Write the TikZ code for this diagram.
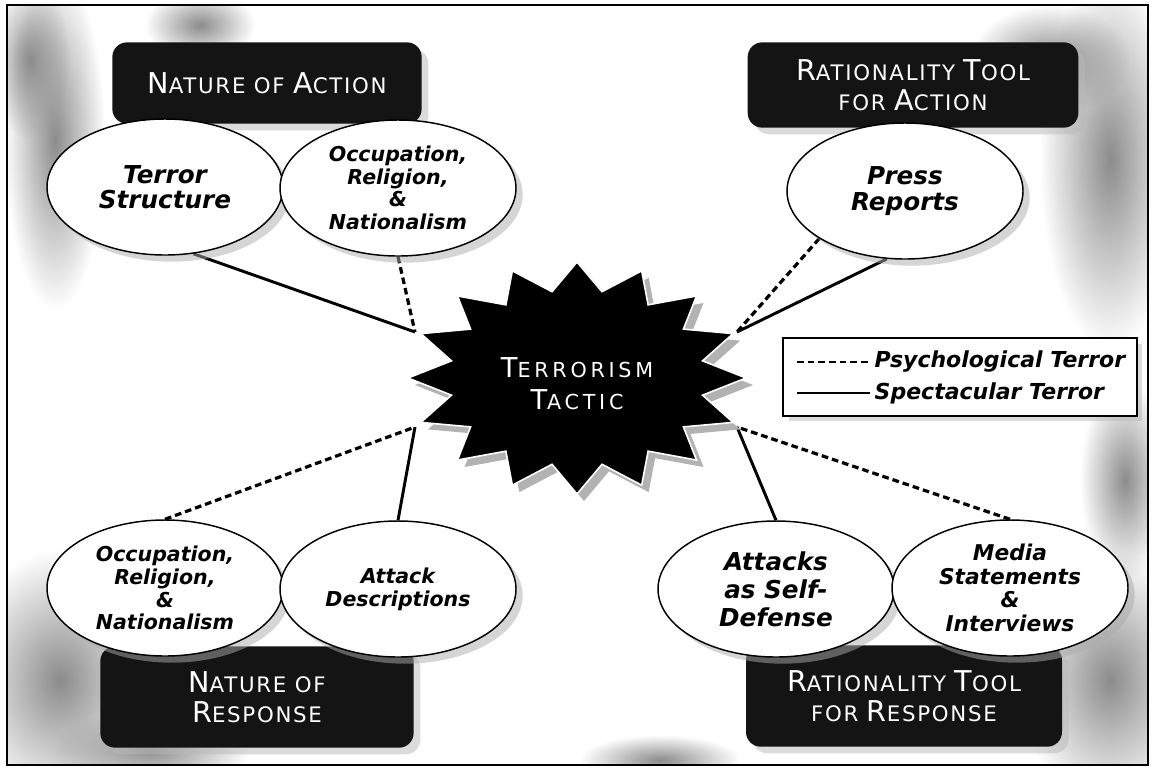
\documentclass[tikz,border=0pt]{standalone}
\usepackage{fontspec}
\setmainfont{DejaVu Sans}
\usetikzlibrary{shapes.geometric,shadows,fadings}
\pgfdeclarelayer{background}
\pgfsetlayers{background,main}

\def\capsize{20}
\newcommand\Cap[1]{{\fontsize{\capsize}{\capsize}\selectfont#1}}
\tikzfading[name=softspot, inner color=transparent!0, outer color=transparent!100]

\tikzset{
  topic/.style={ellipse, draw, line width=1.1pt, fill=white, inner sep=0pt,
    minimum width=177pt, minimum height=102pt, align=center,
    drop shadow={shadow xshift=5pt, shadow yshift=-5pt, fill=gray!65}},
  bigtxt/.style={font=\bfseries\itshape\fontsize{18.5}{19}\selectfont},
  midtxt/.style={font=\bfseries\itshape\fontsize{16.3}{17.8}\selectfont},
  smalltxt/.style={font=\bfseries\itshape\fontsize{15.4}{17}\selectfont},
  header/.style={rounded corners=11pt, fill=black!92, text=white, align=center,
    font={\fontsize{16}{22.5}\selectfont\addfontfeature{LetterSpace=8}\def\capsize{21.5}},
    drop shadow={shadow xshift=5pt, shadow yshift=-5pt, fill=gray!55}},
  spect/.style={line width=2.2pt},
  psych/.style={line width=2.4pt, dash pattern=on 5pt off 3pt}
}

\begin{document}
\begin{tikzpicture}[x=0.75pt, y=-0.75pt]
\useasboundingbox (0,0) rectangle (1153,769);

\begin{pgfonlayer}{background}
\fill[white] (0,0) rectangle (1153,769);
\begin{scope}
\clip (7,5) rectangle (1148,765);
\foreach \px/\py/\rx/\ry in {55/140/50/170, 30/60/40/80, 200/25/55/35, 60/680/100/130,
    150/750/100/40, 1110/160/70/190, 1050/60/80/55, 1125/480/45/100, 1110/680/90/130, 660/760/80/25}
  \fill[gray!90, path fading=softspot] (\px,\py) ellipse[x radius=\rx, y radius=\ry];
\end{scope}
\draw[line width=1.5pt] (7,5) rectangle (1148,765);
\end{pgfonlayer}

\node[header, minimum width=232pt, minimum height=61pt] (actNature) at (267,83)
  {\Cap{N}ATURE OF \Cap{A}CTION};
\node[header, minimum width=248pt, minimum height=64pt] (actTool) at (913,85)
  {\Cap{R}ATIONALITY \Cap{T}OOL\\FOR \Cap{A}CTION};
\node[header, minimum width=235pt, minimum height=76pt] (respNature) at (257,697)
  {\Cap{N}ATURE OF\\\Cap{R}ESPONSE};
\node[header, minimum width=237pt, minimum height=76pt] (respTool) at (904,696)
  {\Cap{R}ATIONALITY \Cap{T}OOL\\FOR \Cap{R}ESPONSE};

\node[topic, bigtxt] (terror) at (165,187) {Terror\\Structure};
\node[topic, smalltxt] (occAct) at (398,188) {Occupation,\\Religion,\\\&\\Nationalism};
\node[topic, bigtxt] (press) at (905,191) {Press\\Reports};
\node[topic, smalltxt] (occResp) at (165,588) {Occupation,\\Religion,\\\&\\Nationalism};
\node[topic, smalltxt] (attack) at (398,589) {Attack\\Descriptions};
\node[topic, bigtxt, font=\bfseries\itshape\fontsize{18.5}{21}\selectfont] (selfdef) at (776,589)
  {Attacks\\as Self-\\Defense};
\node[topic, midtxt] (media) at (1010,588) {Media\\Statements\\\&\\Interviews};

\begin{scope}[shift={(584,385)}]
\fill[gray!60] (0:169 and 116) \foreach \i in {0,...,15}
  { -- (\i*22.5+11.25:128 and 88) -- (\i*22.5+22.5:169 and 116) } -- cycle;
\end{scope}
\begin{scope}[shift={(577,378)}]
\filldraw[fill=black, draw=white, line width=1.2pt] (0:169 and 116) \foreach \i in {0,...,15}
  { -- (\i*22.5+11.25:128 and 88) -- (\i*22.5+22.5:169 and 116) } -- cycle;
\end{scope}
\node[text=white, align=center, font={\fontsize{15.5}{24}\selectfont\addfontfeature{LetterSpace=18}\def\capsize{20.5}}]
  (tactic) at (577,384) {\Cap{T}ERRORISM\\\Cap{T}ACTIC};

\coordinate (hubNW) at (415,332);
\coordinate (hubNE) at (737,332);
\coordinate (hubSW) at (415,427);
\coordinate (hubSE) at (737,427);

\begin{pgfonlayer}{background}
\draw[spect] (terror.-67) -- (hubNW);
\draw[psych] (occAct.south) -- (hubNW);
\draw[psych] (press.-151) -- (hubNE);
\draw[spect] (press.-105) -- (hubNE);
\draw[psych] (occResp.north) -- (hubSW);
\draw[spect] (attack.north) -- (hubSW);
\draw[spect] (selfdef.north) -- (hubSE);
\draw[psych] (media.north) -- (hubSE);
\end{pgfonlayer}

\node[draw, line width=1.5pt, fill=white, minimum width=265pt, minimum height=58pt,
  drop shadow={shadow xshift=4pt, shadow yshift=-4pt, fill=gray!55}] (legend) at (960,377) {};
\node[anchor=west, font=\bfseries\itshape\fontsize{16.5}{18}\selectfont] (psyLab) at (870,362) {Psychological Terror};
\node[anchor=west, font=\bfseries\itshape\fontsize{16.5}{18}\selectfont] (specLab) at (870,393) {Spectacular Terror};
\coordinate (psyKey) at (797,362);
\coordinate (specKey) at (797,393);
\draw[psych, line width=2pt] (psyKey) -- (psyLab.west);
\draw[spect] (specKey) -- (specLab.west);
\end{tikzpicture}
\end{document}
